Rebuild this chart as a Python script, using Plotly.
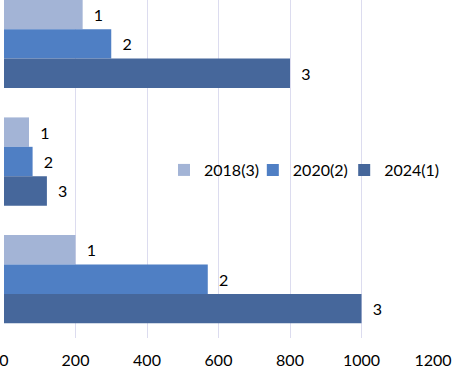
import plotly.graph_objects as go

categories = ["A", "B", "C"]
series_names = ["2018(3)", "2020(2)", "2024(1)"]
values_2018 = [220, 70, 200]
values_2020 = [300, 80, 570]
values_2024 = [800, 120, 1000]
labels_2018 = ["1", "1", "1"]
labels_2020 = ["2", "2", "2"]
labels_2024 = ["3", "3", "3"]
x_ticks = [0, 200, 400, 600, 800, 1000, 1200]

colors = ["#a3b4d6", "#4f7fc4", "#46679b"]
legend_ids = ["legend", "legend2", "legend3"]
legend_x = [0.373, 0.580, 0.793]

fig = go.Figure()
for name, vals, labs, col, lid in zip(series_names,
                                      [values_2018, values_2020, values_2024],
                                      [labels_2018, labels_2020, labels_2024],
                                      colors, legend_ids):
    fig.add_trace(go.Bar(
        y=categories, x=vals, name=name, orientation="h",
        marker=dict(color=col, line=dict(width=0)),
        text=labs, texttemplate="  %{text}", textposition="outside", cliponaxis=False,
        textfont=dict(family="Lato", size=16, color="#000000"),
        legend=lid, showlegend=True,
    ))

legend_style = dict(orientation="h", y=0.497, xanchor="left", yanchor="middle",
                    bgcolor="rgba(0,0,0,0)", font=dict(family="Lato", size=16),
                    itemwidth=30)

fig.update_layout(
    width=453, height=367,
    margin=dict(l=4, r=20, t=0, b=29, autoexpand=False),
    paper_bgcolor="white", plot_bgcolor="white",
    barmode="group", bargap=0.25, bargroupgap=0,
    font=dict(family="Lato", size=16, color="#000000"),
    legend=dict(x=legend_x[0], **legend_style),
    legend2=dict(x=legend_x[1], **legend_style),
    legend3=dict(x=legend_x[2], **legend_style),
)
fig.update_xaxes(range=[0, 1200], tickvals=x_ticks, showgrid=True,
                 gridcolor="#dcdcef", gridwidth=1, zeroline=False,
                 showline=False, ticks="", ticklabelstandoff=11, automargin=False,
                 ticklabeloverflow="allow",
                 tickfont=dict(family="Lato", size=16))
fig.update_yaxes(type="category", range=[2.5, -0.373], showticklabels=False,
                 showgrid=False, zeroline=False, showline=False, ticks="",
                 automargin=False)

fig.write_html("out.html", config={"displayModeBar": False},
               post_script="document.body.style.margin='0';")
